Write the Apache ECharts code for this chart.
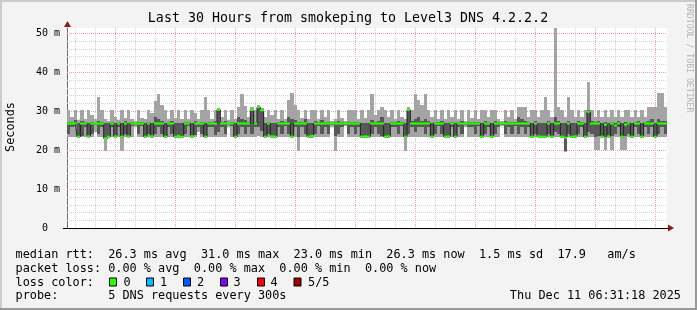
<!DOCTYPE html>
<html><head><meta charset="utf-8">
<script src="https://cdn.jsdelivr.net/npm/echarts@6/dist/echarts.min.js"></script>
<style>html,body{margin:0;padding:0;background:#f3f3f3;}#c{width:697px;height:310px;}</style>
</head><body><div id="c"></div>
<script>
// time: hours since Wed 00:00; first step starts Wed 00:36, 10-minute steps
const START_HOUR = 0.6;
const STEP_HOURS = 1 / 6;

const pingMin = [
23.3,23.3,23.4,23.2,23.3,23.3,23.2,23.3,24.5,23.3,
23.3,19.8,23.2,23.3,23.2,23.3,19.8,23.3,23.2,23.3,
26.0,23.3,23.3,23.2,23.3,23.2,23.3,23.3,23.3,23.2,
23.3,23.3,23.2,23.2,23.2,23.3,23.3,23.2,23.3,24.5,
23.3,23.2,23.3,23.3,23.3,23.3,23.3,23.3,26.0,23.3,
23.2,23.3,23.3,23.3,23.3,23.3,23.3,23.5,23.3,23.2,
23.3,23.2,23.2,23.3,23.3,23.3,23.3,23.2,23.3,19.8,
23.3,23.3,23.2,23.2,23.3,23.3,23.3,23.3,23.3,26.0,
19.8,23.3,23.3,26.2,23.3,23.3,23.3,23.3,23.2,23.2,
23.2,23.3,23.3,23.3,23.3,23.2,23.2,23.3,23.3,23.3,
23.3,19.8,23.3,23.3,23.3,23.3,23.3,23.3,23.3,23.2,
23.3,23.3,23.3,23.2,23.2,23.3,23.2,23.3,23.3,26.0,
23.3,23.3,23.3,23.3,23.2,23.3,23.3,23.2,23.3,23.3,
26.2,23.3,23.3,23.3,23.3,23.3,23.3,23.3,23.3,23.2,
23.3,23.2,23.2,23.2,23.3,23.2,23.3,23.3,23.2,19.6,
23.3,23.2,23.2,23.3,23.3,23.2,23.3,23.3,20.0,20.0,
23.2,20.0,23.2,20.0,23.3,23.3,20.0,20.0,23.3,23.2,
23.3,23.3,23.2,23.3,23.3,23.3,23.2,23.3,23.3,23.3];

const pingLow = [
24.0,25.8,26.2,23.3,23.6,25.8,23.3,24.0,26.3,24.0,
26.0,22.9,23.3,25.8,23.3,26.0,23.2,24.0,23.3,26.2,
26.5,24.2,26.2,23.3,24.0,23.3,24.0,26.0,24.0,23.3,
26.0,24.0,23.3,23.4,23.3,24.2,26.2,23.3,23.8,26.0,
24.0,23.3,26.0,25.8,23.8,24.5,26.0,24.0,26.5,26.2,
23.3,24.0,26.0,24.0,26.0,24.0,25.8,26.0,25.0,23.3,
24.0,23.3,23.3,26.0,24.0,26.2,24.0,23.3,25.8,23.3,
26.0,24.0,23.3,23.4,24.0,26.2,24.0,25.8,24.0,26.5,
23.5,24.2,26.0,26.5,24.0,26.0,24.0,26.0,23.3,23.3,
23.3,24.0,26.0,24.0,23.5,23.3,23.3,25.8,26.0,24.0,
26.2,23.2,24.0,26.0,24.5,26.0,25.8,24.0,26.0,23.3,
24.0,26.2,24.0,23.3,23.3,25.8,23.3,26.0,24.0,26.5,
25.8,26.0,24.0,26.2,23.3,24.0,26.0,23.3,24.2,26.0,
26.5,24.0,26.0,24.0,26.2,24.0,25.8,24.0,26.0,23.3,
24.0,23.3,23.3,23.3,24.0,23.3,24.5,24.0,23.3,19.8,
24.0,23.3,23.3,24.0,26.0,23.3,24.5,24.0,23.3,23.5,
23.3,23.3,23.3,23.5,24.0,26.0,23.2,23.5,24.0,23.3,
26.0,24.0,23.3,25.8,24.0,26.0,23.3,24.0,25.8,24.0];

const median = [
26.8,26.8,26.8,23.4,26.8,26.8,23.5,26.8,26.8,26.8,
26.8,23.0,23.4,26.8,23.5,26.8,23.4,26.8,23.5,26.8,
26.8,26.8,26.8,23.4,26.8,23.5,26.8,26.8,26.8,23.4,
26.8,26.8,23.4,23.6,23.4,26.8,26.8,23.5,26.8,26.8,
26.8,23.4,26.8,26.8,26.8,30.3,26.8,26.8,26.8,26.8,
23.4,26.8,26.8,26.8,26.8,30.3,26.8,31.0,30.2,23.4,
26.8,23.5,23.4,26.8,26.8,26.8,26.8,23.4,26.8,26.8,
26.8,26.8,23.4,23.6,26.8,26.8,26.8,26.8,26.8,26.8,
26.8,26.8,26.8,26.8,26.8,26.8,26.8,26.8,23.4,23.5,
23.4,26.8,26.8,26.8,26.8,23.4,23.5,26.8,26.8,26.8,
26.8,23.4,30.3,26.8,26.8,26.8,26.8,26.8,26.8,23.4,
26.8,26.8,26.8,23.4,23.5,26.8,23.4,26.8,26.8,26.8,
26.8,26.8,26.8,26.8,23.4,26.8,26.8,23.4,26.8,26.8,
26.8,26.8,26.8,26.8,26.8,26.8,26.8,26.8,26.8,23.4,
26.8,23.5,23.4,23.4,26.8,23.4,26.8,26.8,23.4,23.2,
26.8,23.4,23.5,26.8,26.8,23.4,29.8,26.8,26.8,26.8,
23.4,26.5,23.5,26.8,26.3,26.8,23.4,26.5,26.8,23.4,
26.8,26.8,23.4,26.8,26.8,26.8,23.4,26.8,26.8,26.8];

const pingHigh = [
27.3,27.2,27.6,26.8,27.4,27.1,26.8,27.3,27.0,27.5,
27.2,26.8,26.8,27.2,26.8,27.1,26.8,27.4,26.8,27.2,
27.0,27.3,27.1,26.8,27.3,26.8,28.5,28.0,27.5,26.8,
27.2,27.4,26.8,26.8,26.8,27.2,27.1,26.8,27.4,27.0,
27.2,26.8,27.3,27.1,27.5,30.5,27.2,27.4,27.0,27.2,
26.8,28.5,28.0,27.6,27.2,30.5,27.3,31.2,30.4,26.8,
27.3,26.8,26.8,27.2,27.5,27.1,28.5,28.0,27.8,27.2,
27.3,28.0,26.8,26.8,27.4,27.1,27.6,27.2,27.3,27.0,
27.2,27.5,27.1,27.0,27.2,27.1,27.2,27.2,26.8,26.8,
26.8,27.6,27.2,27.5,28.5,26.8,26.8,27.2,27.1,27.4,
27.2,26.8,30.5,27.5,28.0,28.5,27.5,28.0,27.4,26.8,
27.2,27.1,27.5,26.8,26.8,27.3,26.8,27.2,27.4,27.0,
27.2,27.1,27.3,27.2,26.8,27.5,27.2,26.8,27.4,27.1,
27.0,27.5,27.2,27.3,27.1,28.5,28.0,27.5,27.2,26.8,
27.4,26.8,26.8,27.0,27.4,26.8,28.5,27.5,26.8,26.8,
27.5,26.8,26.8,27.4,27.2,26.8,30.3,27.5,27.2,27.4,
26.8,27.2,26.8,27.3,27.0,27.4,26.8,27.2,27.3,26.8,
27.2,27.5,26.8,27.2,27.5,28.0,26.8,28.0,27.5,27.5];

const pingMax = [
30.3,28.4,30.3,27.8,30.3,28.0,30.3,29.0,28.0,33.6,
30.3,28.0,27.5,30.3,28.5,27.8,30.3,28.2,30.3,28.0,
27.5,30.3,28.3,28.0,30.3,29.5,32.5,34.4,31.5,30.3,
28.0,30.3,28.2,30.3,28.0,30.3,28.0,30.3,29.5,28.0,
30.3,33.7,30.3,28.0,30.3,30.8,28.5,30.3,27.6,30.3,
28.0,31.0,34.4,31.2,28.5,30.9,30.3,31.5,30.8,28.5,
30.3,29.0,30.3,28.0,30.3,28.0,32.8,34.7,31.5,30.3,
28.2,30.3,28.0,30.3,30.3,28.0,30.3,28.5,30.3,27.5,
28.0,30.3,28.2,27.4,30.3,30.3,30.3,28.0,30.3,28.2,
30.3,34.4,29.0,30.3,31.0,30.3,28.5,30.3,28.0,30.3,
28.5,28.0,31.0,30.3,34.4,32.8,31.5,34.4,30.3,28.5,
30.3,28.0,30.3,28.0,30.3,28.5,30.3,28.0,30.3,27.5,
30.3,28.2,30.3,28.0,30.3,30.3,28.5,30.3,30.3,28.0,
27.5,30.3,28.5,30.3,28.0,31.0,31.0,31.0,28.5,30.3,
30.3,28.5,30.3,33.7,30.3,28.5,51.5,31.0,30.3,28.5,
33.7,30.3,28.5,30.3,28.5,30.3,37.5,30.3,28.5,30.3,
28.5,30.3,28.5,30.3,28.5,30.3,28.5,30.3,30.3,28.5,
30.3,28.5,30.3,28.5,31.0,31.0,31.0,34.6,34.5,31.0];

const xTickHours = [6, 12, 18, 24, 30];
const xTickLabels = ['Wed 06:00', 'Wed 12:00', 'Wed 18:00', 'Thu 00:00', 'Thu 06:00'];
const yTickValues = [0, 10, 20, 30, 40, 50];
const yTickLabels = ['0  ', '10 m', '20 m', '30 m', '40 m', '50 m'];

const lossLabels = ['0', '1', '2', '3', '4', '5/5'];
const lossColors = ['#26ff00', '#00b8ff', '#0059ff', '#7e00ff', '#ff0000', '#a10000'];

const legendLines = [
  'median rtt:  26.3 ms avg  31.0 ms max  23.0 ms min  26.3 ms now  1.5 ms sd  17.9   am/s',
  'packet loss: 0.00 % avg  0.00 % max  0.00 % min  0.00 % now',
  'loss color:',
  'probe:       5 DNS requests every 300s'
];
const stampText = 'Thu Dec 11 06:31:18 2025';
const titleText = 'Last 30 Hours from smokeping to Level3 DNS 4.2.2.2';

// ---------- build ----------
const times = median.map((_, i) => START_HOUR + (i + 0.5) * STEP_HOURS);
const outerData = times.map((t, i) => [t, pingMin[i], pingMax[i]]);
const innerData = times.map((t, i) => [t, pingLow[i], pingHigh[i]]);
const medData = times.map((t, i) => [t, median[i]]);

const hourGrid = [];
for (let h = 1; h <= 30; h++) hourGrid.push([h, 0, h % 3 === 0 ? 1 : 0]);
const msGrid = [];
for (let v = 2; v <= 50; v += 2) msGrid.push([START_HOUR, v, v % 10 === 0 ? 1 : 0]);

const MONO = 'DejaVu Sans Mono';
const MINOR = '#d2d2d2';
const MAJOR = '#f0a0a0';
const SW = 0.28;

function bandRenderer(color) {
  return function (params, api) {
    const x = api.value(0), lo = api.value(1), hi = api.value(2);
    const a = api.coord([x - STEP_HOURS / 2, hi]);
    const b = api.coord([x + STEP_HOURS / 2, lo]);
    const x0 = Math.round(a[0]), x1 = Math.round(b[0]);
    const y0 = Math.round(a[1]), y1 = Math.round(b[1]);
    return { type: 'rect', shape: { x: x0, y: y0, width: x1 - x0, height: Math.max(1, y1 - y0) }, style: { fill: color } };
  };
}
function medianBand(params, api) {
  const x = api.value(0), m = api.value(1);
  const a = api.coord([x - STEP_HOURS / 2, m + SW]);
  const b = api.coord([x + STEP_HOURS / 2, m - SW]);
  const x0 = Math.round(a[0]), x1 = Math.round(b[0]);
  return { type: 'rect', shape: { x: x0, y: a[1], width: x1 - x0, height: b[1] - a[1] }, style: { fill: lossColors[0] } };
}
function vGrid(params, api) {
  const p = api.coord([api.value(0), 0]);
  const cs = params.coordSys;
  const x = Math.round(p[0]) + 0.5;
  return { type: 'line', shape: { x1: x, y1: cs.y, x2: x, y2: cs.y + cs.height },
    style: { stroke: api.value(2) ? MAJOR : MINOR, lineWidth: 1, lineDash: [1, 1] } };
}
function hGrid(params, api) {
  const p = api.coord([START_HOUR, api.value(1)]);
  const cs = params.coordSys;
  const y = Math.round(p[1]) + 0.5;
  return { type: 'line', shape: { x1: cs.x, y1: y, x2: cs.x + cs.width, y2: y },
    style: { stroke: api.value(2) ? MAJOR : MINOR, lineWidth: 1, lineDash: [1, 1] } };
}

const graphics = [
  { type: 'rect', shape: { x: 0, y: 0, width: 697, height: 2 }, style: { fill: '#cbcbcb' }, silent: true },
  { type: 'rect', shape: { x: 0, y: 0, width: 2, height: 310 }, style: { fill: '#cbcbcb' }, silent: true },
  { type: 'rect', shape: { x: 695, y: 0, width: 2, height: 310 }, style: { fill: '#999' }, silent: true },
  { type: 'rect', shape: { x: 0, y: 308, width: 697, height: 2 }, style: { fill: '#999' }, silent: true },
  { type: 'text', x: 348, y: 19, style: { text: titleText, font: '13.3px "' + MONO + '"', fill: '#000', align: 'center', verticalAlign: 'middle' } },
  { type: 'text', x: 10.5, y: 127, rotation: Math.PI / 2, style: { text: 'Seconds', font: '11.85px "' + MONO + '"', fill: '#000', align: 'center', verticalAlign: 'middle' } },
  { type: 'text', x: 689, y: 4, rotation: -Math.PI / 2, style: { text: 'RRDTOOL / TOBI OETIKER', font: '8.2px "' + MONO + '"', fill: '#b4b4b4', align: 'left', verticalAlign: 'middle' } },
  { type: 'polygon', shape: { points: [[64, 27], [71, 27], [67.5, 21]] }, style: { fill: '#8b1a1a' } },
  { type: 'polygon', shape: { points: [[668, 224.5], [668, 231.5], [674, 228]] }, style: { fill: '#8b1a1a' } },
  { type: 'line', shape: { x1: 63, y1: 228.5, x2: 668, y2: 228.5 }, style: { stroke: '#000', lineWidth: 1 } }
];
const lineY = [255, 268.5, 282.5, 296];
legendLines.forEach((t, i) => {
  graphics.push({ type: 'text', x: 15.5, y: lineY[i], style: { text: t, font: '11.85px "' + MONO + '"', fill: '#000', align: 'left', verticalAlign: 'middle' } });
});
graphics.push({ type: 'text', x: 681, y: lineY[3], style: { text: stampText, font: '11.85px "' + MONO + '"', fill: '#000', align: 'right', verticalAlign: 'middle' } });
const boxX = [109, 146, 183, 220, 257, 293.5];
const labX = [123.5, 160, 197, 233.5, 270.5, 308];
lossLabels.forEach((l, i) => {
  graphics.push({ type: 'rect', shape: { x: boxX[i] + 0.5, y: 278, width: 7, height: 8 }, style: { fill: lossColors[i], stroke: '#000', lineWidth: 1 } });
  graphics.push({ type: 'text', x: labX[i], y: lineY[2], style: { text: l, font: '11.85px "' + MONO + '"', fill: '#000', align: 'left', verticalAlign: 'middle' } });
});

const chart = echarts.init(document.getElementById('c'), null, { renderer: 'canvas', width: 697, height: 310 });
chart.setOption({
  animation: false,
  backgroundColor: '#f3f3f3',
  grid: { left: 67, top: 28, width: 600, height: 200, show: true, backgroundColor: '#ffffff', borderWidth: 0 },
  xAxis: {
    type: 'value', min: START_HOUR, max: START_HOUR + 30, interval: 6,
    axisLine: { show: true, lineStyle: { color: '#000', width: 1 } },
    axisTick: { show: false },
    splitLine: { show: false },
    axisLabel: {
      showMinLabel: false, showMaxLabel: false, margin: 4,
      fontFamily: MONO, fontSize: 10, color: '#000',
      formatter: v => { const i = xTickHours.findIndex(h => Math.abs(h - v) < 1e-6); return i >= 0 ? xTickLabels[i] : ''; }
    }
  },
  yAxis: {
    type: 'value', min: 0, max: 200 / 3.9, interval: 10,
    axisLine: { show: true, lineStyle: { color: '#707070', width: 1 } },
    axisTick: { show: false },
    splitLine: { show: false },
    axisLabel: {
      showMaxLabel: false, margin: 7,
      fontFamily: MONO, fontSize: 10, color: '#000',
      formatter: v => { const i = yTickValues.findIndex(t => Math.abs(t - v) < 1e-6); return i >= 0 ? yTickLabels[i] : ''; }
    }
  },
  graphic: graphics,
  series: [
    { type: 'custom', name: 'vgrid', data: hourGrid, encode: { x: 0, y: 1 }, renderItem: vGrid, silent: true, z: 1 },
    { type: 'custom', name: 'hgrid', data: msGrid, encode: { x: 0, y: 1 }, renderItem: hGrid, silent: true, z: 1 },
    { type: 'custom', name: 'outer', data: outerData, encode: { x: 0, y: [1, 2] }, renderItem: bandRenderer('#a4a4a4'), clip: true, silent: true, z: 2 },
    { type: 'custom', name: 'inner', data: innerData, encode: { x: 0, y: [1, 2] }, renderItem: bandRenderer('#585858'), clip: true, silent: true, z: 3 },
    { type: 'line', name: 'median', data: medData, step: 'middle', symbol: 'none', lineStyle: { color: '#202020', width: 1 }, clip: true, silent: true, z: 4 },
    { type: 'custom', name: 'medband', data: medData, encode: { x: 0, y: 1 }, renderItem: medianBand, clip: true, silent: true, z: 5 }
  ]
});
</script></body></html>
